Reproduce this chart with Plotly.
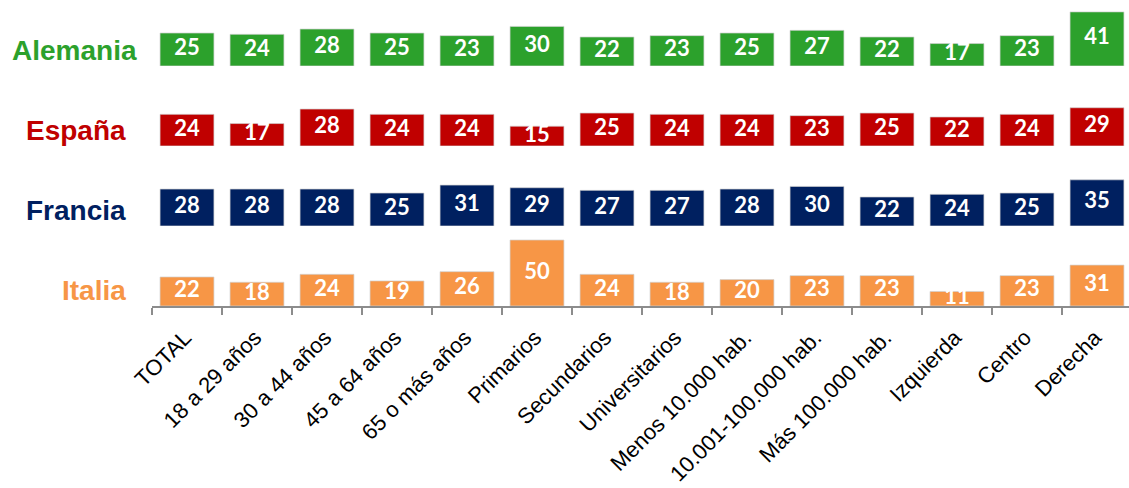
import plotly.graph_objects as go
from plotly.subplots import make_subplots

categories = ["TOTAL", "18 a 29 años", "30 a 44 años", "45 a 64 años", "65 o más años",
              "Primarios", "Secundarios", "Universitarios", "Menos 10.000 hab.",
              "10.001-100.000 hab.", "Más 100.000 hab.", "Izquierda", "Centro", "Derecha"]

countries = ["Alemania", "España", "Francia", "Italia"]
alemania = [25, 24, 28, 25, 23, 30, 22, 23, 25, 27, 22, 17, 23, 41]
espana = [24, 17, 28, 24, 24, 15, 25, 24, 24, 23, 25, 22, 24, 29]
francia = [28, 28, 28, 25, 31, 29, 27, 27, 28, 30, 22, 24, 25, 35]
italia = [22, 18, 24, 19, 26, 50, 24, 18, 20, 23, 23, 11, 23, 31]
series = [alemania, espana, francia, italia]
colors = ["#2CA12C", "#C00000", "#002060", "#F79646"]

W, H = 1129, 488
ml, mb = 152, 182
plot_h = H - mb
pxu = 1.32
row_px = [(0, 66), (66, 146), (146, 226), (226, 306)]

fig = make_subplots(rows=4, cols=1, shared_xaxes=True, vertical_spacing=0)

for i, (name, vals, col) in enumerate(zip(countries, series, colors)):
    r = i + 1
    fig.add_trace(go.Bar(x=categories, y=vals, marker_color=col,
                         marker_line=dict(color="rgba(210,210,210,0.7)", width=1),
                         width=0.77, hoverinfo="skip", showlegend=False), row=r, col=1)
    fig.add_trace(go.Scatter(x=categories, y=[v / 2 for v in vals], mode="text",
                             text=[str(v) for v in vals],
                             textfont=dict(family="Lato", size=22, color="white", weight="bold"),
                             textposition="middle center", cliponaxis=False,
                             hoverinfo="skip", showlegend=False), row=r, col=1)

label_x = [139, 128, 128, 128]
for i, (name, col) in enumerate(zip(countries, colors)):
    top, bot = row_px[i]
    dom = [1 - bot / plot_h, 1 - top / plot_h]
    dom = [max(0, dom[0]), min(1, dom[1])]
    yname = "yaxis" if i == 0 else f"yaxis{i+1}"
    fig.layout[yname].update(domain=dom, range=[0, (bot - top) / pxu], visible=False,
                             fixedrange=True, automargin=False)
    fig.add_annotation(xref="paper", yref=("y" if i == 0 else f"y{i+1}"),
                       x=(label_x[i] - ml) / (W - ml), y=16 / pxu,
                       xanchor="right", yanchor="middle", showarrow=False,
                       text=f"<b>{name}</b>",
                       font=dict(family="Liberation Sans, Arial", size=28, color=col))

xr = [-0.5, -0.5 + (W - ml) / 70.0]
for i in range(4):
    xname = "xaxis" if i == 0 else f"xaxis{i+1}"
    fig.layout[xname].update(range=xr, showgrid=False, zeroline=False, fixedrange=True,
                             automargin=False)
    if i < 3:
        fig.layout[xname].update(visible=False)

fig.update_xaxes(row=4, col=1, visible=True, showline=True, linecolor="#8C8C8C", linewidth=2,
                 ticks="outside", tickson="boundaries", ticklen=7, tickcolor="#8C8C8C",
                 tickwidth=2, tickangle=-45, ticklabelstandoff=8, ticklabelshift=-2,
                 tickfont=dict(family="Liberation Sans, Arial", size=22, color="black"))

fig.update_layout(width=W, height=H, margin=dict(l=ml, r=0, t=0, b=mb, pad=0),
                  plot_bgcolor="white", paper_bgcolor="white", bargap=0.23)

fig.write_html("out.html", config={"displayModeBar": False},
               post_script="document.body.style.margin='0';document.body.style.overflow='hidden';")
